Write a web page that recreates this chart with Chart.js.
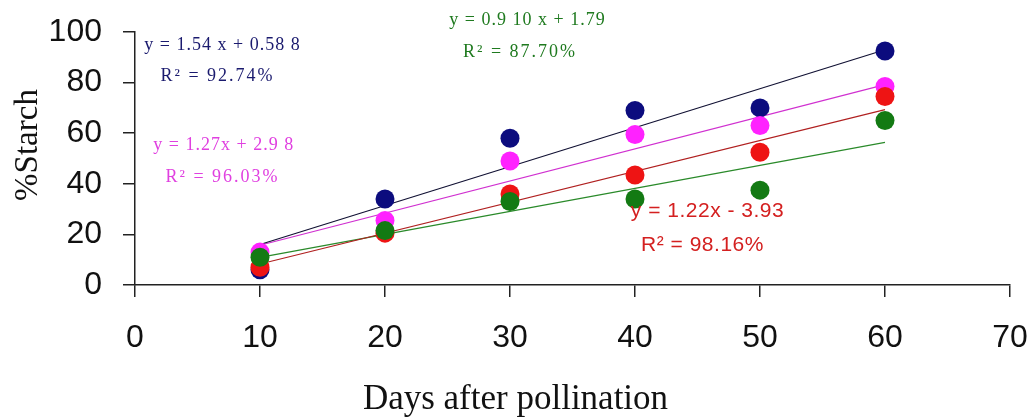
<!DOCTYPE html>
<html lang="en">
<head>
<meta charset="UTF-8">
<title>Starch vs days after pollination</title>
<script src="https://cdn.jsdelivr.net/npm/chart.js"></script>
<style>
  html, body { margin: 0; padding: 0; background: #fff; }
  .graph { width: 1031px; height: 418px; }
</style>
</head>
<body>
<div class="graph">
  <canvas id="myChartCanvas" width="1031" height="418"></canvas>
</div>

<script>
// data
const days = [10, 20, 30, 40, 50, 60];
const navyVals = [6, 34, 58, 69, 70, 92.5];
const pinkVals = [13, 25.5, 49, 59.5, 63, 78.5];
const redVals = [7, 20.5, 36, 43.5, 52.5, 74.5];
const greenVals = [11, 21.5, 33, 34, 37.5, 65];

// trend line ends (x = 10 and x = 60)
const fitDays = [10, 60];
const navyFit = [16, 93];
const pinkFit = [15.7, 79.2];
const redFit = [8.3, 69.3];
const greenFit = [10.9, 56.4];

const xTicks = [0, 10, 20, 30, 40, 50, 60, 70];
const yTicks = [0, 20, 40, 60, 80, 100];

// equation texts: [line, x, y] in data units
const navyEq = [['y = 1.54 x + 0.58 8', 7.0, 94.9], ['R² = 92.74%', 6.6, 82.6]];
const greenEq = [['y = 0.9 10 x + 1.79', 31.4, 104.7], ['R² = 87.70%', 30.8, 92.1]];
const pinkEq = [['y = 1.27x + 2.9 8', 7.1, 55.3], ['R² = 96.03%', 7.0, 42.7]];
const redEq = [['y = 1.22x - 3.93', 45.8, 29.2], ['R² = 98.16%', 45.4, 15.8]];

const NAVY = '#0c0c7e', PINK = '#ff22ff', RED = '#ee1414', GREEN = '#137a13';

function pts(xs, ys) {
    let out = [];
    for (let i = 0; i < xs.length; i++) out.push({ x: xs[i], y: ys[i] });
    return out;
}

function dots(vals, color, order) {
    return {
        type: 'scatter',
        data: pts(days, vals),
        backgroundColor: color,
        borderColor: color,
        borderWidth: 0,
        pointRadius: 9.5,
        pointHoverRadius: 9.5,
        order: order
    };
}

function fit(vals, color, order) {
    return {
        type: 'line',
        data: pts(fitDays, vals),
        borderColor: color,
        borderWidth: 1.2,
        pointRadius: 0,
        pointHoverRadius: 0,
        fill: false,
        order: order
    };
}

// draws the regression equations and the y title
const eqPlugin = {
    id: 'eqText',
    afterDatasetsDraw(chart) {
        const ctx = chart.ctx;
        const xs = chart.scales.x, ys = chart.scales.y;
        const groups = [
            [navyEq, '#1a1a6e', '18px "Liberation Serif"', '1px'],
            [greenEq, '#1f7a1f', '18px "Liberation Serif"', '1px'],
            [pinkEq, '#e040e0', '18px "Liberation Serif"', '1px'],
            [redEq, '#d42020', '21px "Liberation Sans"', '0.5px']
        ];
        ctx.save();
        ctx.textAlign = 'center';
        ctx.textBaseline = 'middle';
        groups.forEach(function (g) {
            ctx.fillStyle = g[1];
            ctx.font = g[2];
            ctx.letterSpacing = g[3];
            g[0].forEach(function (l, i) {
                // R² lines are spaced a bit wider in the original
                if (i == 1 && g[3] == '1px') ctx.letterSpacing = '2px';
                ctx.fillText(l[0], xs.getPixelForValue(l[1]), ys.getPixelForValue(l[2]));
            });
        });
        ctx.restore();

        // y axis title, a little above the middle like the original
        ctx.save();
        ctx.translate(28, 145);
        ctx.rotate(-Math.PI / 2);
        ctx.textAlign = 'center';
        ctx.textBaseline = 'middle';
        ctx.fillStyle = '#111';
        ctx.font = '33px "Liberation Serif"';
        ctx.fillText('%Starch', 0, 0);
        ctx.restore();
    }
};

const config = {
    data: {
        datasets: [
            dots(greenVals, GREEN, 1),
            dots(redVals, RED, 2),
            dots(pinkVals, PINK, 3),
            dots(navyVals, NAVY, 4),
            fit(navyFit, '#111133', 5),
            fit(pinkFit, '#d030d0', 6),
            fit(redFit, '#b02020', 7),
            fit(greenFit, '#2a8a2a', 8)
        ]
    },
    options: {
        responsive: false,
        animation: false,
        layout: { autoPadding: false, padding: { top: 32, right: 0, left: 0, bottom: 0 } },
        plugins: {
            legend: { display: false },
            tooltip: { enabled: false },
            title: {
                display: true,
                position: 'bottom',
                text: 'Days after pollination',
                color: '#111',
                font: { family: 'Liberation Serif', size: 35, weight: 'normal', lineHeight: 1 },
                padding: { top: 30, bottom: 1 }
            }
        },
        scales: {
            x: {
                type: 'linear',
                min: 0,
                max: 70,
                afterBuildTicks: function (axis) { axis.ticks = xTicks.map(v => ({ value: v })); },
                afterFit: function (axis) {
                    axis.height = 67;
                    axis.paddingLeft = 0;
                    axis.paddingRight = 21;
                },
                grid: { drawOnChartArea: false, drawTicks: true, tickLength: 12, color: '#222', lineWidth: 1.5 },
                border: { color: '#222', width: 1.5 },
                ticks: { color: '#111', font: { family: 'Liberation Sans', size: 32 }, padding: 22, maxRotation: 0 }
            },
            y: {
                min: 0,
                max: 100,
                afterBuildTicks: function (axis) { axis.ticks = yTicks.map(v => ({ value: v })); },
                afterFit: function (axis) {
                    axis.width = 135;
                    axis.paddingTop = 0;
                    axis.paddingBottom = 0;
                },
                grid: { drawOnChartArea: false, drawTicks: true, tickLength: 12, color: '#222', lineWidth: 1.5 },
                border: { color: '#222', width: 1.5 },
                ticks: { color: '#111', font: { family: 'Liberation Sans', size: 32 }, padding: 21 }
            }
        }
    },
    plugins: [eqPlugin]
};

new Chart(document.getElementById('myChartCanvas'), config);
</script>
</body>
</html>
